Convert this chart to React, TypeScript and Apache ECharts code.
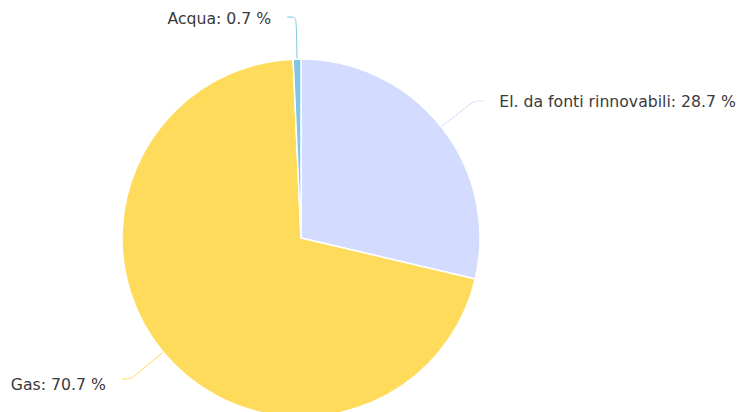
import React, { useEffect, useRef } from "react";
import * as echarts from "echarts";

const categories = ["El. da fonti rinnovabili", "Gas", "Acqua"];
const values = [28.7, 70.7, 0.7];
const colors = ["#d3dcff", "#ffdb5c", "#7fc6e6"];
const labelShiftY = [1, 5, 1];

export default function App() {
  const ref = useRef<HTMLDivElement>(null);
  useEffect(() => {
    if (!ref.current) return;
    const chart = echarts.init(ref.current, undefined, { renderer: "svg" });
    chart.setOption({
      animation: false,
      series: [
        {
          type: "pie",
          center: [301, 238],
          radius: 179,
          startAngle: 90,
          clockwise: true,
          avoidLabelOverlap: false,
          data: categories.map((name, i) => ({
            name,
            value: values[i],
            itemStyle: { color: colors[i] },
            label: { offset: [0, labelShiftY[i]] },
          })),
          itemStyle: { borderColor: "#ffffff", borderWidth: 1.5 },
          label: {
            show: true,
            formatter: "{b}: {c} %",
            color: "#3a3a3a",
            fontFamily: "DejaVu Sans",
            fontSize: 15.7,
            distanceToLabelLine: 16,
          },
          labelLine: {
            show: true,
            length: 42,
            length2: 9,
            smooth: 0.3,
            lineStyle: { width: 1 },
          },
        },
      ],
    });
    return () => chart.dispose();
  }, []);
  return (
    <div
      ref={ref}
      style={{ position: "absolute", left: 0, top: 0, width: 742, height: 412 }}
    />
  );
}
